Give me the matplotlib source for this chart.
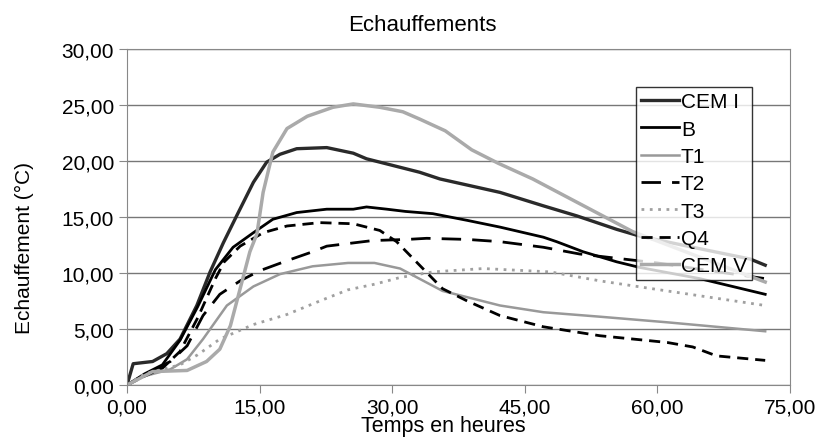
import matplotlib.pyplot as plt
from matplotlib.ticker import FuncFormatter

plt.rcParams['font.family'] = ['Liberation Sans', 'DejaVu Sans']

# temps (h) / echauffement (°C) pour chaque ciment
t_cem1 = [0, 0.7, 2.9, 4.5, 6.0, 7.9, 9.4, 10.9, 12.4, 14.3, 15.8, 17.3, 19.2, 22.6, 25.6, 27.1,
          30.1, 33.1, 35.4, 42.2, 47.1, 50.9, 55.4, 58.0, 64.0, 70.5, 72.2]
y_cem1 = [0, 1.9, 2.1, 2.8, 4.1, 7.1, 10.1, 12.7, 15.1, 18.1, 19.9, 20.6, 21.1, 21.2, 20.7, 20.2,
          19.6, 19.0, 18.4, 17.2, 16.0, 15.1, 13.9, 13.3, 12.3, 11.25, 10.7]

t_b = [0, 2, 4, 6, 8, 10, 12, 14.3, 16.5, 19.2, 22.6, 25.6, 27.1, 29.4, 31.5, 34.6, 38.5, 42.2,
       47.1, 48.6, 51.6, 55.4, 58.0, 64.8, 72.2]
y_b = [0, 1.0, 1.8, 4.0, 7.0, 10.3, 12.3, 13.6, 14.8, 15.4, 15.7, 15.7, 15.9, 15.7, 15.5, 15.3,
       14.7, 14.1, 13.2, 12.8, 11.9, 11.0, 10.5, 9.5, 8.1]

t_t1 = [0, 2, 4.9, 6.8, 8.6, 11.3, 14.3, 17.3, 21.0, 25.0, 28.0, 30.9, 35.7, 42.2, 47.1, 53.5,
        61.1, 72.2]
y_t1 = [0, 0.8, 1.4, 2.3, 4.1, 7.1, 8.8, 9.9, 10.6, 10.9, 10.9, 10.4, 8.4, 7.1, 6.5, 6.1, 5.6, 4.8]

t_t2 = [0, 2, 4.9, 6.8, 8.6, 10.5, 12.8, 15.0, 18.1, 21.0, 22.6, 27.8, 31.7, 33.9, 38.5, 42.2,
        47.1, 51.2, 60.0, 66.0, 72.2]
y_t2 = [0, 0.9, 2.1, 3.5, 6.2, 8.1, 9.3, 10.2, 11.1, 11.9, 12.4, 12.9, 13.0, 13.1, 13.0, 12.8,
        12.3, 11.7, 10.9, 10.2, 9.5]

t_t3 = [0, 2, 4, 6, 8, 10.5, 14.3, 18.1, 21.8, 25.0, 28.0, 30.9, 34.6, 40.3, 47.9, 53.5, 61.1, 72.2]
y_t3 = [0, 1.0, 1.4, 1.8, 2.7, 4.1, 5.4, 6.3, 7.5, 8.5, 9.0, 9.6, 10.1, 10.4, 10.1, 9.3, 8.4, 7.1]

t_q4 = [0, 2, 4, 6, 8, 10, 11, 12.8, 15.4, 18.1, 21.8, 25.6, 28.6, 30.5, 33.1, 35.7, 38.5, 42.2,
        47.1, 53.5, 61.1, 64.0, 66.7, 72.2]
y_q4 = [0, 0.8, 1.5, 3.0, 6.0, 9.5, 11.0, 12.4, 13.6, 14.2, 14.5, 14.4, 13.8, 12.8, 10.7, 8.6,
        7.5, 6.2, 5.2, 4.4, 3.8, 3.4, 2.6, 2.2]

t_cem5 = [0, 2.9, 6.8, 9.0, 10.5, 11.7, 12.8, 13.9, 14.7, 15.4, 16.5, 18.1, 20.4, 23.3, 25.6,
          28.6, 31.2, 33.1, 36.0, 39.0, 42.0, 45.9, 57.2, 70.5, 72.2]
y_cem5 = [0, 1.2, 1.3, 2.1, 3.2, 5.3, 8.6, 11.9, 13.5, 17.2, 20.8, 22.9, 24.0, 24.8, 25.1,
          24.8, 24.4, 23.75, 22.7, 21.0, 19.8, 18.4, 13.7, 9.7, 9.2]

x_ticks = [0, 15, 30, 45, 60, 75]
y_ticks = [0, 5, 10, 15, 20, 25, 30]

fig = plt.figure(figsize=(8.22, 4.39), dpi=100)
ax = fig.add_axes([0.1545, 0.1207, 0.8065, 0.7653])

ax.plot(t_cem1, y_cem1, color='#2a2a2a', lw=2.4, label='CEM I')
ax.plot(t_b, y_b, color='black', lw=2.0, label='B')
ax.plot(t_t1, y_t1, color='#999999', lw=1.8, label='T1')
ax.plot(t_t2, y_t2, color='black', lw=2.0, dashes=(7, 4), label='T2')
ax.plot(t_t3, y_t3, color='#a0a0a0', lw=2.0, dashes=(1, 2), label='T3')
ax.plot(t_q4, y_q4, color='black', lw=2.0, dashes=(4, 2.5), label='Q4')
ax.plot(t_cem5, y_cem5, color='#aaaaaa', lw=2.5, label='CEM V')

ax.set_xlim(0, 75)
ax.set_ylim(0, 30)
ax.set_xticks(x_ticks)
ax.set_yticks(y_ticks)
comma = FuncFormatter(lambda v, p: f"{v:.2f}".replace('.', ','))
ax.xaxis.set_major_formatter(comma)
ax.yaxis.set_major_formatter(comma)
ax.tick_params(labelsize=15, direction='out', length=5.8, pad=3.5, color='#888888')
ax.grid(axis='y', color='#777777', lw=1)
for s in ax.spines.values():
    s.set_color('#888888')

ax.set_title('Echauffements', fontsize=16, x=0.445, pad=14)
ax.set_xlabel('Temps en heures', fontsize=15.5)
ax.xaxis.set_label_coords(0.477, -0.09)
ax.set_ylabel('Echauffement (°C)', fontsize=15)
ax.yaxis.set_label_coords(-0.14, 0.41)

ax.legend(loc='upper right', bbox_to_anchor=(0.943, 0.887), fontsize=15, frameon=True,
          fancybox=False, edgecolor='black', handlelength=1.8, handletextpad=0.1,
          borderpad=0.25, labelspacing=0.4, borderaxespad=0)

fig.savefig('out.png', dpi=100)
